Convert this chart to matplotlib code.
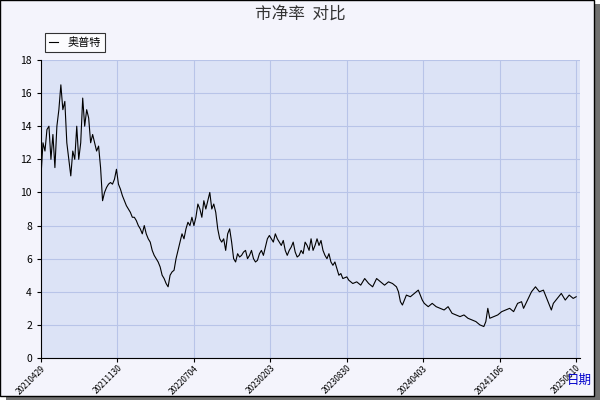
import matplotlib
matplotlib.use('Agg')
import matplotlib.pyplot as plt
from matplotlib.patches import Rectangle

plt.rcParams['font.family'] = ['Noto Sans CJK SC', 'DejaVu Sans']

tick_labels = ['20210429','20211130','20220704','20230203','20230830','20240403','20241106','20250610']
px = [41,43,45,47,49,51,53,55,57,59,61,63,65,67,69,71,73,75,77,79,81,83,85,87,89,91,93,95,97,99,101,103,105,107,109,111,113,115,117,119,121,123,125,127,129,131,133,135,137,139,141,143,145,147,149,151,153,155,157,159,161,163,165,167,169,171,173,175,177,179,181,183,185,187,189,191,193,195,197,199,201,203,205,207,209,211,213,215,217,219,221,223,225,227,229,231,233,235,237,239,241,243,245,247,249,251,253,255,257,259,261,263,265,267,269,271,273,275,277,279,281,283,285,287,289,291,293,295,297,299,301,303,305,307,309,311,313,315,317,319,321,323,325,327,329,331,333,335,337,339,341,343,345,349,351,355,359,363,367,371,375,379,383,387,391,395,399,401,403,405,407,409,413,417,421,423,425,427,431,435,439,443,447,451,455,459,463,467,471,475,479,483,487,489,491,493,497,501,505,509,513,517,521,525,527,531,535,539,543,547,551,555,557,561,565,569,573,577,580]
pb = [11,13,12.5,13.8,14,12,13.5,11.5,14,15,16.5,15,15.5,13,12,11,12.5,12,14,12,13,15.7,14,15,14.5,13,13.5,13,12.5,12.8,11.5,9.5,10,10.3,10.5,10.6,10.5,10.8,11.4,10.5,10.2,9.8,9.5,9.2,9,8.8,8.5,8.5,8.3,8,7.8,7.5,8,7.5,7.2,7,6.5,6.2,6,5.8,5.5,5,4.8,4.5,4.3,5,5.2,5.3,6,6.5,7,7.5,7.2,7.8,8.2,8,8.5,8,8.5,9.3,9,8.5,9.5,9,9.5,10,9,9.3,8.8,7.8,7.2,7,7.2,6.5,7.5,7.8,7,6,5.8,6.3,6.1,6.2,6.4,6.5,6,6.2,6.5,6,5.8,5.9,6.3,6.5,6.2,6.7,7.2,7.4,7.2,7,7.5,7.2,7,6.8,7.1,6.5,6.2,6.5,6.7,7,6.4,6.1,6.2,6.5,6.3,7,6.8,6.5,7.2,6.5,6.8,7.2,6.8,7.1,6.5,6.2,6,6.3,5.8,5.6,5.8,5.4,5,5.1,4.8,4.9,4.7,4.5,4.6,4.4,4.8,4.5,4.3,4.8,4.6,4.4,4.6,4.5,4.3,4.0,3.4,3.2,3.5,3.8,3.7,3.9,4.1,3.8,3.5,3.3,3.1,3.3,3.1,3.0,2.9,3.1,2.7,2.6,2.5,2.6,2.4,2.3,2.2,2.0,1.9,2.2,3.0,2.4,2.5,2.6,2.8,2.9,3.0,2.8,3.3,3.4,3.0,3.5,4.0,4.3,4.0,4.1,3.5,2.9,3.3,3.6,3.9,3.5,3.8,3.6,3.7]
pos = [(p - 41) / 77.0 for p in px]

fig = plt.figure(figsize=(6, 4), dpi=100, facecolor='white')
fig.patches.append(Rectangle((0.01, 0.0), 0.99, 0.99, transform=fig.transFigure, facecolor='#707070', edgecolor='none', zorder=-2))
fig.patches.append(Rectangle((0.0, 0.01), 0.99, 0.99, transform=fig.transFigure, facecolor='#f4f4fc', edgecolor='black', lw=1, zorder=-1))
ax = fig.add_axes([41/600, 42/400, 539/600, 298/400])
ax.set_facecolor('#dce3f6')
ax.plot(pos, pb, color='black', lw=0.8, label='奥普特')
ax.set_xlim(0, 7.05)
ax.set_ylim(0, 18)
ax.set_yticks(range(0, 19, 2))
ax.set_xticks(range(8))
ax.set_xticklabels(tick_labels, rotation=45, ha='right', fontsize=6, rotation_mode='anchor')
ax.tick_params(axis='y', labelsize=7.5, length=3)
ax.tick_params(axis='x', length=3, pad=1)
ax.grid(color='#b8c4e8', lw=0.8)
for s in ['top', 'right']:
    ax.spines[s].set_visible(False)
fig.text(0.5, 0.965, '市净率  对比', ha='center', va='center', fontsize=12, color='#333333')
fig.text(0.965, 0.05, '日期', ha='center', va='center', fontsize=9, color='#0000cc')
leg = ax.legend(loc='upper left', bbox_to_anchor=(-0.003, 1.11), fontsize=8, frameon=True, fancybox=False, handlelength=0.8, borderpad=0.4)
leg.get_frame().set_edgecolor('black')
leg.get_frame().set_linewidth(0.8)
fig.savefig('out.png', dpi=100)
